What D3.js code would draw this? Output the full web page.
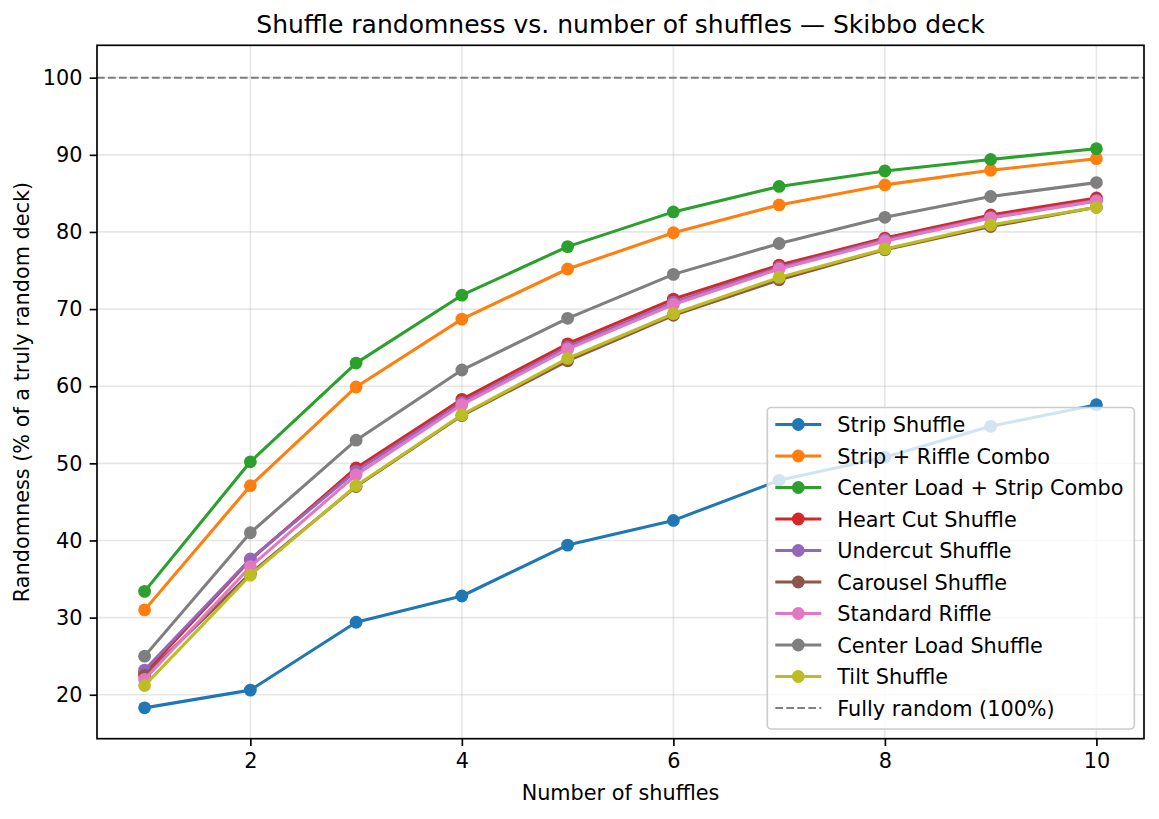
<!DOCTYPE html>
<html>
<head>
<meta charset="utf-8">
<script src="https://cdn.jsdelivr.net/npm/d3@7"></script>
<style>
    body { margin: 0; background: #fff; }
    text { font-family: "DejaVu Sans", sans-serif; fill: #000; }
</style>
</head>
<body>
<div id="chart"></div>
<script>
    // Data
    const shuffles = [1, 2, 3, 4, 5, 6, 7, 8, 9, 10];

    const stripShuffle       = [18.3, 20.6, 29.4, 32.8, 39.4, 42.6, 47.8, 50.8, 54.8, 57.6];
    const stripRiffleCombo   = [31.0, 47.1, 59.9, 68.7, 75.2, 79.9, 83.5, 86.1, 88.0, 89.5];
    const centerStripCombo   = [33.4, 50.2, 63.0, 71.8, 78.1, 82.6, 85.9, 87.9, 89.4, 90.8];
    const heartCutShuffle    = [22.8, 37.5, 49.4, 58.3, 65.5, 71.3, 75.7, 79.2, 82.2, 84.4];
    const undercutShuffle    = [23.2, 37.6, 49.0, 57.9, 65.1, 70.9, 75.4, 79.0, 81.9, 84.1];
    const carouselShuffle    = [22.5, 35.7, 47.0, 56.2, 63.3, 69.2, 73.8, 77.7, 80.7, 83.2];
    const standardRiffle     = [22.0, 36.6, 48.5, 57.6, 64.8, 70.6, 75.2, 78.8, 81.8, 84.0];
    const centerLoadShuffle  = [25.0, 41.0, 53.0, 62.1, 68.8, 74.5, 78.5, 81.9, 84.6, 86.4];
    const tiltShuffle        = [21.2, 35.5, 47.1, 56.3, 63.6, 69.4, 74.1, 77.8, 80.9, 83.2];

    const seriesNames = [
        "Strip Shuffle", "Strip + Riffle Combo", "Center Load + Strip Combo",
        "Heart Cut Shuffle", "Undercut Shuffle", "Carousel Shuffle",
        "Standard Riffle", "Center Load Shuffle", "Tilt Shuffle"
    ];
    const seriesValues = [
        stripShuffle, stripRiffleCombo, centerStripCombo,
        heartCutShuffle, undercutShuffle, carouselShuffle,
        standardRiffle, centerLoadShuffle, tiltShuffle
    ];
    const fullyRandom = 100;
    const fullyRandomLabel = "Fully random (100%)";

    const xTicks = [2, 4, 6, 8, 10];
    const yTicks = [20, 30, 40, 50, 60, 70, 80, 90, 100];

    const colors = ["#1f77b4", "#ff7f0e", "#2ca02c", "#d62728", "#9467bd",
                    "#8c564b", "#e377c2", "#7f7f7f", "#bcbd22"];

    const series = seriesNames.map((name, i) => ({
        name: name,
        color: colors[i],
        points: shuffles.map((s, j) => ({ x: s, y: seriesValues[i][j] }))
    }));

    const W = 1159, H = 819;
    const margin = { top: 45.3, right: 15, bottom: 80.3, left: 97 };
    const width = W - margin.left - margin.right;
    const height = H - margin.top - margin.bottom;
    const fs = 20.8;

    const root = d3.select("#chart")
        .append("svg")
        .attr("width", W)
        .attr("height", H);

    const svg = root.append("g")
        .attr("transform", `translate(${margin.left},${margin.top})`);

    const x = d3.scaleLinear().domain([0.55, 10.45]).range([0, width]);
    const y = d3.scaleLinear().domain([14.3, 104.2]).range([height, 0]);

    // Grade
    svg.append("g")
        .selectAll("line")
        .data(xTicks)
        .enter()
        .append("line")
        .attr("x1", d => x(d)).attr("x2", d => x(d))
        .attr("y1", 0).attr("y2", height)
        .attr("stroke", "#b0b0b0").attr("stroke-opacity", 0.3)
        .attr("stroke-width", 1.67);

    svg.append("g")
        .selectAll("line")
        .data(yTicks)
        .enter()
        .append("line")
        .attr("x1", 0).attr("x2", width)
        .attr("y1", d => y(d)).attr("y2", d => y(d))
        .attr("stroke", "#b0b0b0").attr("stroke-opacity", 0.3)
        .attr("stroke-width", 1.67);

    // Series
    const line = d3.line().x(d => x(d.x)).y(d => y(d.y));

    series.forEach(s => {
        const g = svg.append("g");
        g.append("path")
            .datum(s.points)
            .attr("d", line)
            .attr("fill", "none")
            .attr("stroke", s.color)
            .attr("stroke-width", 3.1)
            .attr("stroke-linejoin", "round")
            .attr("stroke-linecap", "square");
        g.selectAll("circle")
            .data(s.points)
            .enter()
            .append("circle")
            .attr("cx", d => x(d.x))
            .attr("cy", d => y(d.y))
            .attr("r", 6.4)
            .attr("fill", s.color);
    });

    // Linha de 100%
    svg.append("line")
        .attr("x1", 0).attr("x2", width)
        .attr("y1", y(fullyRandom)).attr("y2", y(fullyRandom))
        .attr("stroke", "#808080")
        .attr("stroke-width", 2.08)
        .attr("stroke-dasharray", "7.7,3.3");

    // Eixos
    const xAxis = svg.append("g")
        .attr("transform", `translate(0,${height})`)
        .call(d3.axisBottom(x).tickValues(xTicks).tickSize(7.3).tickPadding(7.3).tickFormat(d3.format("d")));
    const yAxis = svg.append("g")
        .call(d3.axisLeft(y).tickValues(yTicks).tickSize(7.3).tickPadding(7.3).tickFormat(d3.format("d")));

    [xAxis, yAxis].forEach(a => {
        a.select(".domain").remove();
        a.selectAll("line").attr("stroke", "#000").attr("stroke-width", 1.67);
        a.selectAll("text")
            .style("font-family", "DejaVu Sans")
            .style("font-size", fs + "px")
            .attr("fill", "#000");
    });

    svg.append("rect")
        .attr("width", width)
        .attr("height", height)
        .attr("fill", "none")
        .attr("stroke", "#000")
        .attr("stroke-width", 1.67);

    // Rótulos
    svg.append("text")
        .attr("x", width / 2)
        .attr("y", height + 61)
        .attr("text-anchor", "middle")
        .style("font-size", fs + "px")
        .text("Number of shuffles");

    svg.append("text")
        .attr("transform", "rotate(-90)")
        .attr("x", -height / 2)
        .attr("y", -margin.left + 29)
        .attr("text-anchor", "middle")
        .style("font-size", fs + "px")
        .text("Randomness (% of a truly random deck)");

    svg.append("text")
        .attr("x", width / 2)
        .attr("y", -12)
        .attr("text-anchor", "middle")
        .style("font-size", "25px")
        .text("Shuffle randomness vs. number of shuffles \u2014 Skibbo deck");

    // Legenda
    const legendItems = series.map(s => ({ name: s.name, color: s.color, dashed: false }))
        .concat([{ name: fullyRandomLabel, color: "#808080", dashed: true }]);

    const rowH = 31.5;
    const legW = 367, legH = legendItems.length * rowH + 6.5;
    const legX = width - 9.7 - legW;
    const legY = height - 9.7 - legH;

    const legend = svg.append("g")
        .attr("transform", `translate(${legX},${legY})`);

    legend.append("rect")
        .attr("width", legW)
        .attr("height", legH)
        .attr("rx", 4).attr("ry", 4)
        .attr("fill", "#fff").attr("fill-opacity", 0.8)
        .attr("stroke", "#cccccc")
        .attr("stroke-width", 1.67);

    const rows = legend.selectAll(".row")
        .data(legendItems)
        .enter()
        .append("g")
        .attr("class", "row")
        .attr("transform", (d, i) => `translate(0,${17 + i * rowH})`);

    rows.append("line")
        .attr("x1", 8).attr("x2", 54)
        .attr("y1", 0).attr("y2", 0)
        .attr("stroke", d => d.color)
        .attr("stroke-width", d => d.dashed ? 2.08 : 3.1)
        .attr("stroke-dasharray", d => d.dashed ? "7.7,3.3" : null);

    rows.filter(d => !d.dashed)
        .append("circle")
        .attr("cx", 31).attr("cy", 0).attr("r", 6.4)
        .attr("fill", d => d.color);

    rows.append("text")
        .attr("x", 70)
        .attr("y", 0)
        .attr("dy", "0.36em")
        .style("font-size", fs + "px")
        .text(d => d.name);
</script>
</body>
</html>
